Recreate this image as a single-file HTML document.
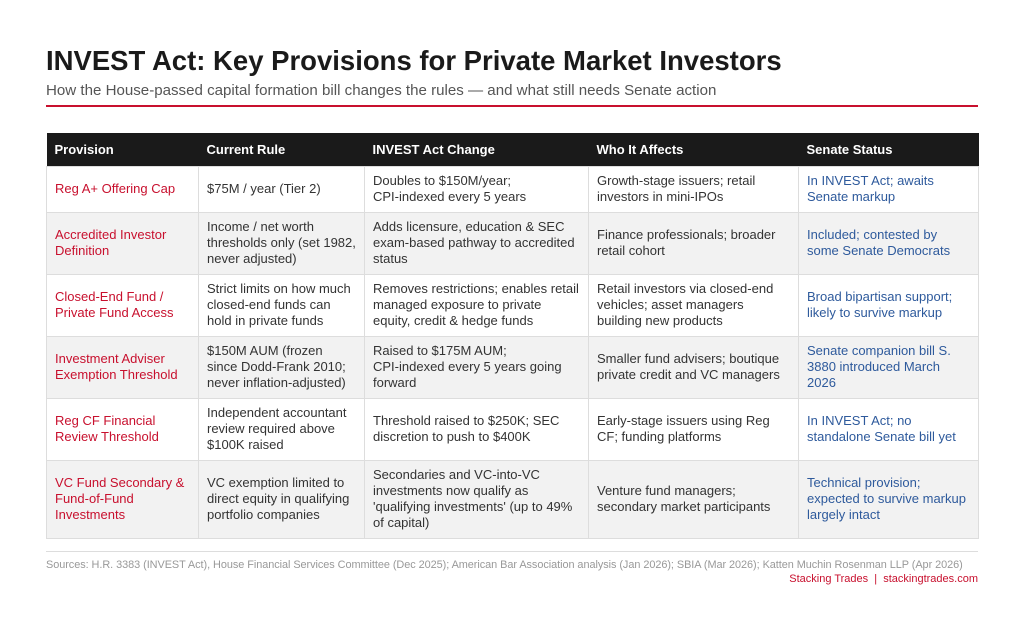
<!DOCTYPE html>
<html><head><meta charset="utf-8"><style>
*{margin:0;padding:0;box-sizing:border-box}
body{width:1024px;height:628px;background:#fff;font-family:"Liberation Sans",Arial,sans-serif;position:relative;overflow:hidden}
h1{position:absolute;left:46px;top:45px;font-size:27.5px;font-weight:bold;color:#1a1a1a}
.sub{position:absolute;left:46px;top:82px;font-size:15.1px;color:#555}
.rule{position:absolute;left:46px;top:105px;width:932px;height:2px;background:#c8102e}
table{position:absolute;left:46px;top:133px;width:932px;border-collapse:collapse;table-layout:fixed}
th{background:#1a1a1a;color:#fff;font-size:13px;font-weight:bold;text-align:left;padding:0 8px;height:33px}
td{font-size:13px;line-height:16px;color:#333;padding:0 8px;vertical-align:middle;border:1px solid #ddd}
tr.g td{background:#f2f2f2}
td.p{color:#c8102e}
td.s{color:#2e5a9c}
.foot{position:absolute;left:46px;top:551px;width:932px;height:1px;background:#ddd}
.src{position:absolute;left:46px;top:559px;font-size:10.9px;color:#999;letter-spacing:-0.05px}
.cr{position:absolute;right:46px;top:573px;font-size:11px;color:#c8102e}
</style></head><body>
<h1>INVEST Act: Key Provisions for Private Market Investors</h1>
<div class="sub">How the House-passed capital formation bill changes the rules — and what still needs Senate action</div>
<div class="rule"></div>
<table>
<colgroup><col style="width:152px"><col style="width:166px"><col style="width:224px"><col style="width:210px"><col style="width:180px"></colgroup>
<tr><th>Provision</th><th>Current Rule</th><th>INVEST Act Change</th><th>Who It Affects</th><th>Senate Status</th></tr>
<tr style="height:46px"><td class="p">Reg A+ Offering Cap</td><td>$75M / year (Tier 2)</td><td>Doubles to $150M/year;<br>CPI-indexed every 5 years</td><td>Growth-stage issuers; retail investors in mini-IPOs</td><td class="s">In INVEST Act; awaits Senate markup</td></tr>
<tr class="g" style="height:62px"><td class="p">Accredited Investor Definition</td><td>Income / net worth thresholds only (set 1982, never adjusted)</td><td>Adds licensure, education &amp; SEC exam-based pathway to accredited status</td><td>Finance professionals; broader retail cohort</td><td class="s">Included; contested by some Senate Democrats</td></tr>
<tr style="height:62px"><td class="p">Closed-End Fund / Private Fund Access</td><td>Strict limits on how much closed-end funds can hold in private funds</td><td>Removes restrictions; enables retail managed exposure to private equity, credit &amp; hedge funds</td><td>Retail investors via closed-end vehicles; asset managers building new products</td><td class="s">Broad bipartisan support; likely to survive markup</td></tr>
<tr class="g" style="height:62px"><td class="p">Investment Adviser Exemption Threshold</td><td>$150M AUM (frozen since Dodd-Frank 2010; never inflation-adjusted)</td><td>Raised to $175M AUM;<br>CPI-indexed every 5 years going forward</td><td>Smaller fund advisers; boutique private credit and VC managers</td><td class="s">Senate companion bill S. 3880 introduced March 2026</td></tr>
<tr style="height:62px"><td class="p">Reg CF Financial Review Threshold</td><td>Independent accountant review required above $100K raised</td><td>Threshold raised to $250K; SEC discretion to push to $400K</td><td>Early-stage issuers using Reg CF; funding platforms</td><td class="s">In INVEST Act; no standalone Senate bill yet</td></tr>
<tr class="g" style="height:78px"><td class="p">VC Fund Secondary &amp; Fund-of-Fund Investments</td><td>VC exemption limited to direct equity in qualifying portfolio companies</td><td>Secondaries and VC-into-VC investments now qualify as 'qualifying investments' (up to 49% of capital)</td><td>Venture fund managers; secondary market participants</td><td class="s">Technical provision; expected to survive markup largely intact</td></tr>
</table>
<div class="foot"></div>
<div class="src">Sources: H.R. 3383 (INVEST Act), House Financial Services Committee (Dec 2025); American Bar Association analysis (Jan 2026); SBIA (Mar 2026); Katten Muchin Rosenman LLP (Apr 2026)</div>
<div class="cr">Stacking Trades &nbsp;|&nbsp; stackingtrades.com</div>
</body></html>
